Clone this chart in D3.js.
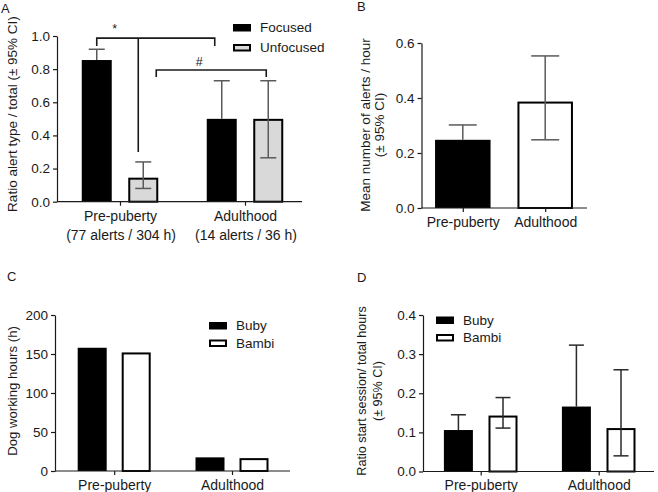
<!DOCTYPE html>
<html>
<head>
<meta charset="utf-8">
<script src="https://cdn.jsdelivr.net/npm/d3@7"></script>
<style>
html,body{margin:0;padding:0;background:#fff;}
svg{display:block;font-family:"Liberation Sans",Arial,sans-serif;}
</style>
</head>
<body>
<svg id="chart" width="658" height="492"></svg>
<script>
// ---------- DATA ----------
const categories = ["Pre-puberty", "Adulthood"];
const aSubLabels = ["(77 alerts / 304 h)", "(14 alerts / 36 h)"];
const aSeries = ["Focused", "Unfocused"];
const aFocused = [0.855, 0.50];
const aFocusedLo = [0.79, 0.27];
const aFocusedHi = [0.92, 0.73];
const aUnfocused = [0.145, 0.50];
const aUnfocusedLo = [0.08, 0.265];
const aUnfocusedHi = [0.24, 0.73];
const aTicks = [0, 0.2, 0.4, 0.6, 0.8, 1.0];

const bMean = [0.248, 0.387];
const bLo = [0.20, 0.248];
const bHi = [0.302, 0.553];
const bTicks = [0, 0.2, 0.4, 0.6];

const dogSeries = ["Buby", "Bambi"];
const cBuby = [158, 17.5];
const cBambi = [152, 16.5];
const cTicks = [0, 50, 100, 150, 200];

const dBuby = [0.106, 0.166];
const dBubyLo = [0.07, 0.02];
const dBubyHi = [0.145, 0.323];
const dBambi = [0.143, 0.111];
const dBambiLo = [0.111, 0.040];
const dBambiHi = [0.189, 0.26];
const dTicks = [0, 0.1, 0.2, 0.3, 0.4];

// ---------- DRAWING ----------
const svg = d3.select("#chart");
const INK = "#1a1a1a";
const FONT = "Liberation Sans, Arial, sans-serif";

function panel(cfg) {
  const g = svg.append("g");
  const y = d3.scaleLinear().domain([0, cfg.yMax]).range([cfg.bottom, cfg.top]);
  const x = d3.scalePoint().domain(categories).range(cfg.centers);
  const sub = d3.scalePoint().domain(cfg.series.map(s => s.name)).range([-cfg.offset, cfg.offset]);

  // per-bar style helpers (style may vary per category)
  const fillOf = (s, i) => Array.isArray(s.fill) ? s.fill[i] : s.fill;
  const strokeOf = (s, i) => Array.isArray(s.stroke) ? s.stroke[i] : s.stroke;
  const filledOf = (s, i) => Array.isArray(s.filled) ? s.filled[i] : s.filled;

  // bars
  cfg.series.forEach(s => {
    categories.forEach((c, i) => {
      const st = strokeOf(s, i);
      const sw = st ? 2 : 0;
      g.append("rect")
        .attr("x", x(c) + sub(s.name) - cfg.barW / 2 + sw / 2)
        .attr("y", y(s.values[i]) + sw / 2)
        .attr("width", cfg.barW - sw)
        .attr("height", Math.max(0, cfg.bottom - y(s.values[i]) - sw / 2))
        .attr("fill", fillOf(s, i))
        .attr("stroke", st || "none")
        .attr("stroke-width", sw);
    });
  });

  // error bars
  if (cfg.errors) {
    cfg.series.forEach(s => {
      categories.forEach((c, i) => {
        const cx = x(c) + sub(s.name);
        const filled = filledOf(s, i);
        const from = filled ? s.values[i] : s.lo[i];
        g.append("line").attr("x1", cx).attr("x2", cx)
          .attr("y1", y(from)).attr("y2", y(s.hi[i]))
          .attr("stroke", cfg.errColor).attr("stroke-width", 1.5);
        const caps = filled ? [s.hi[i]] : [s.lo[i], s.hi[i]];
        caps.forEach(v => {
          g.append("line").attr("x1", cx - cfg.capW / 2).attr("x2", cx + cfg.capW / 2)
            .attr("y1", y(v)).attr("y2", y(v))
            .attr("stroke", cfg.errColor).attr("stroke-width", 1.5);
        });
      });
    });
  }

  // y axis
  const ya = g.append("g").attr("transform", `translate(${cfg.left},0)`)
    .call(d3.axisLeft(y).tickValues(cfg.ticks).tickSize(4).tickSizeOuter(0).tickPadding(3).tickFormat(cfg.fmt));
  ya.select(".domain").attr("stroke", INK).attr("stroke-width", 1.2);
  ya.selectAll(".tick line").attr("stroke", INK).attr("stroke-width", 1.2);
  ya.selectAll(".tick text").attr("fill", INK).style("font-size", "13.5px").style("font-family", FONT);

  // x axis
  const xa = g.append("g").attr("transform", `translate(0,${cfg.bottom})`)
    .call(d3.axisBottom(x).tickSize(4).tickSizeOuter(0).tickPadding(5));
  xa.select(".domain").remove();
  xa.selectAll(".tick line").attr("stroke", INK).attr("stroke-width", 1.2);
  xa.selectAll(".tick text").attr("fill", INK).style("font-size", "14px").style("font-family", FONT);
  g.append("line").attr("x1", cfg.left).attr("x2", cfg.right)
    .attr("y1", cfg.bottom).attr("y2", cfg.bottom)
    .attr("stroke", INK).attr("stroke-width", 1.2);

  // y title
  const t = g.append("text")
    .attr("transform", `translate(${cfg.titleX},${cfg.titleY}) rotate(-90)`)
    .attr("text-anchor", "middle").attr("fill", INK)
    .style("font-size", cfg.titleSize + "px");
  cfg.title.forEach((line, i) => {
    t.append("tspan").attr("x", 0).attr("dy", i === 0 ? 0 : cfg.titleLH).text(line);
  });

  // panel letter
  g.append("text").attr("x", cfg.letterX).attr("y", cfg.letterY)
    .attr("fill", INK).style("font-size", "13px").text(cfg.letter);

  // legend
  if (cfg.legend) {
    cfg.series.forEach((s, i) => {
      const ly = cfg.legend.y + i * cfg.legend.dy;
      const st = strokeOf(s, 0);
      const sw = st ? 2 : 0;
      g.append("rect").attr("x", cfg.legend.x + sw / 2).attr("y", ly - 7 + sw / 2)
        .attr("width", 18 - sw).attr("height", 7.5 - sw)
        .attr("fill", fillOf(s, 0)).attr("stroke", st || "none").attr("stroke-width", sw);
      g.append("text").attr("x", cfg.legend.x + 27).attr("y", ly + 1)
        .attr("fill", INK).style("font-size", "13.5px").text(s.name);
    });
  }
  return { g, x, y, sub };
}

// Panel A
const A = panel({
  letter: "A", letterX: 1, letterY: 13,
  left: 57, right: 302, top: 36, bottom: 201.7, yMax: 1.0,
  centers: [120, 245], offset: 23.25, barW: 30,
  ticks: aTicks, fmt: d3.format(".1f"),
  errors: true, errColor: "#5a5a5a", capW: 16,
  series: [
    { name: aSeries[0], values: aFocused, lo: aFocusedLo, hi: aFocusedHi, fill: "#000", filled: true },
    { name: aSeries[1], values: aUnfocused, lo: aUnfocusedLo, hi: aUnfocusedHi, fill: "#d9d9d9", stroke: "#000", filled: false }
  ],
  title: ["Ratio alert type / total (\u00b1 95% CI)"], titleX: 17, titleY: 114, titleSize: 13.5, titleLH: 13,
  legend: { x: 233, y: 31, dy: 20 }
});
// sub labels under categories (panel A)
A.g.selectAll(null).data(categories).enter().append("text")
  .attr("x", c => A.x(c) + 1).attr("y", 240)
  .attr("text-anchor", "middle").attr("fill", INK).style("font-size", "14px")
  .text((c, i) => aSubLabels[i]);

// significance brackets (panel A)
const brackets = [
  { label: "*", level: 0.987, from: [0, "Focused", 0], to: [1, "Focused", -7], drop: 0.048, dropLine: [0, "Unfocused", -5, 0.30] },
  { label: "#", level: 0.795, from: [0, "Unfocused", 13], to: [1, "Unfocused", -2], drop: 0.042 }
];
brackets.forEach(b => {
  const px = p => A.x(categories[p[0]]) + A.sub(p[1]) + p[2];
  const x1 = px(b.from), x2 = px(b.to);
  const yl = A.y(b.level), yd = A.y(b.level - b.drop);
  A.g.append("path")
    .attr("d", `M${x1},${yd}V${yl}H${x2}V${yd}`)
    .attr("fill", "none").attr("stroke", INK).attr("stroke-width", 1.6);
  if (b.dropLine) {
    const dx = px(b.dropLine);
    A.g.append("line").attr("x1", dx).attr("x2", dx).attr("y1", yl).attr("y2", A.y(b.dropLine[3]))
      .attr("stroke", INK).attr("stroke-width", 1.6);
  }
  A.g.append("text")
    .attr("x", b.label === "*" ? x1 + 18 : (x1 + x2) / 2 - 12)
    .attr("y", yl - (b.label === "*" ? 5 : 4))
    .attr("text-anchor", "middle").attr("fill", INK).style("font-size", "12.5px").text(b.label);
});

// Panel B
panel({
  letter: "B", letterX: 357, letterY: 11,
  left: 421.5, right: 587, top: 43, bottom: 208, yMax: 0.6,
  centers: [462.8, 545.2], offset: 0, barW: 55.5,
  ticks: bTicks, fmt: d3.format(".1f"),
  errors: true, errColor: "#5a5a5a", capW: 28,
  series: [
    { name: "Mean", values: bMean, lo: bLo, hi: bHi,
      fill: ["#000", "#fff"], stroke: [null, "#000"], filled: [true, false] }
  ],
  title: ["Mean number of alerts / hour", "(\u00b1 95% CI)"], titleX: 370, titleY: 125, titleSize: 13.5, titleLH: 14,
  legend: null
});

// Panel C
panel({
  letter: "C", letterX: 7, letterY: 281,
  left: 55, right: 290, top: 315, bottom: 471, yMax: 200,
  centers: [114.2, 232], offset: 22, barW: 29,
  ticks: cTicks, fmt: d3.format("d"),
  errors: false,
  series: [
    { name: dogSeries[0], values: cBuby, fill: "#000", filled: true },
    { name: dogSeries[1], values: cBambi, fill: "#fff", stroke: "#000", filled: false }
  ],
  title: ["Dog working hours (h)"], titleX: 17, titleY: 391, titleSize: 13.2, titleLH: 14,
  legend: { x: 209, y: 329, dy: 17.5 }
});

// Panel D
panel({
  letter: "D", letterX: 357, letterY: 282,
  left: 423, right: 654, top: 315, bottom: 471.5, yMax: 0.4,
  centers: [480.7, 598.7], offset: 22.3, barW: 29,
  ticks: dTicks, fmt: d3.format(".1f"),
  errors: true, errColor: "#2a2a2a", capW: 15,
  series: [
    { name: dogSeries[0], values: dBuby, lo: dBubyLo, hi: dBubyHi, fill: "#000", filled: true },
    { name: dogSeries[1], values: dBambi, lo: dBambiLo, hi: dBambiHi, fill: "#fff", stroke: "#000", filled: false }
  ],
  title: ["Ratio start session/ total hours", "(\u00b1 95% CI)"], titleX: 366, titleY: 391, titleSize: 12.6, titleLH: 16,
  legend: { x: 436, y: 323.5, dy: 17.5 }
});
</script>
</body>
</html>
